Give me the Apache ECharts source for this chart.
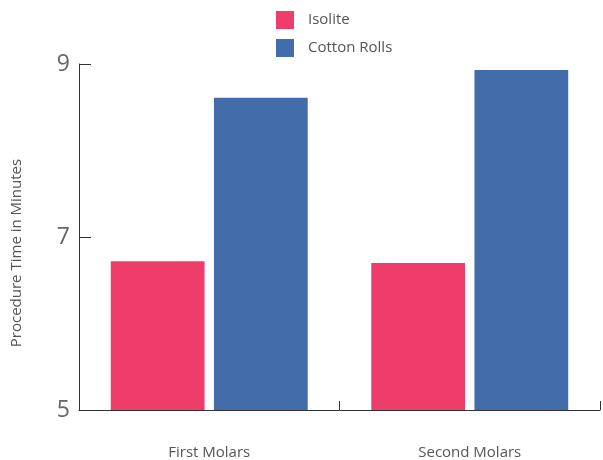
<!DOCTYPE html>
<html><head><meta charset="utf-8">
<script src="https://cdn.jsdelivr.net/npm/echarts@6/dist/echarts.min.js"></script>
<style>html,body{margin:0;padding:0;background:#fff}#c{width:603px;height:460px}</style>
</head><body><div id="c"></div>
<script>
const categories = ['First Molars', 'Second Molars'];
const isolite = [6.72, 6.70];
const cottonRolls = [8.61, 8.93];
const yTicks = [5, 7, 9];

const chart = echarts.init(document.getElementById('c'));
const font = '"Open Sans", Lato, sans-serif';
chart.setOption({
  animation: false,
  textStyle: { fontFamily: font },
  legend: {
    orient: 'vertical', left: 271, top: 6,
    itemWidth: 18, itemHeight: 18, itemGap: 10,
    icon: 'rect',
    textStyle: { fontSize: 15, color: '#555', padding: [0, 0, 0, 9], fontFamily: font },
    data: ['Isolite', 'Cotton Rolls']
  },
  grid: { left: 79, right: 3, top: 64, bottom: 49 },
  xAxis: {
    type: 'category', data: categories,
    axisLine: { lineStyle: { color: '#333' } },
    axisTick: { show: true, inside: true, length: 9, lineStyle: { color: '#333' } },
    axisLabel: { fontSize: 15, color: '#555', margin: 35, fontFamily: font }
  },
  yAxis: {
    type: 'value', min: yTicks[0], max: yTicks[yTicks.length - 1], interval: 2,
    name: 'Procedure Time in Minutes', nameLocation: 'middle', nameGap: 55,
    nameTextStyle: { fontSize: 15, color: '#555', fontFamily: font, padding: [0, 32, 0, 0] },
    splitLine: { show: false },
    axisLine: { show: true, lineStyle: { color: '#333' } },
    axisTick: { show: true, inside: true, length: 12, lineStyle: { color: '#333' } },
    axisLabel: { fontSize: 23, color: '#666', margin: 9, fontFamily: font }
  },
  series: [
    { name: 'Isolite', type: 'bar', data: isolite, barWidth: '36%', barGap: '10%',
      itemStyle: { color: '#EF3D6B' } },
    { name: 'Cotton Rolls', type: 'bar', data: cottonRolls, barWidth: '36%', barGap: '10%',
      itemStyle: { color: '#426DAA' } }
  ]
});
</script></body></html>
